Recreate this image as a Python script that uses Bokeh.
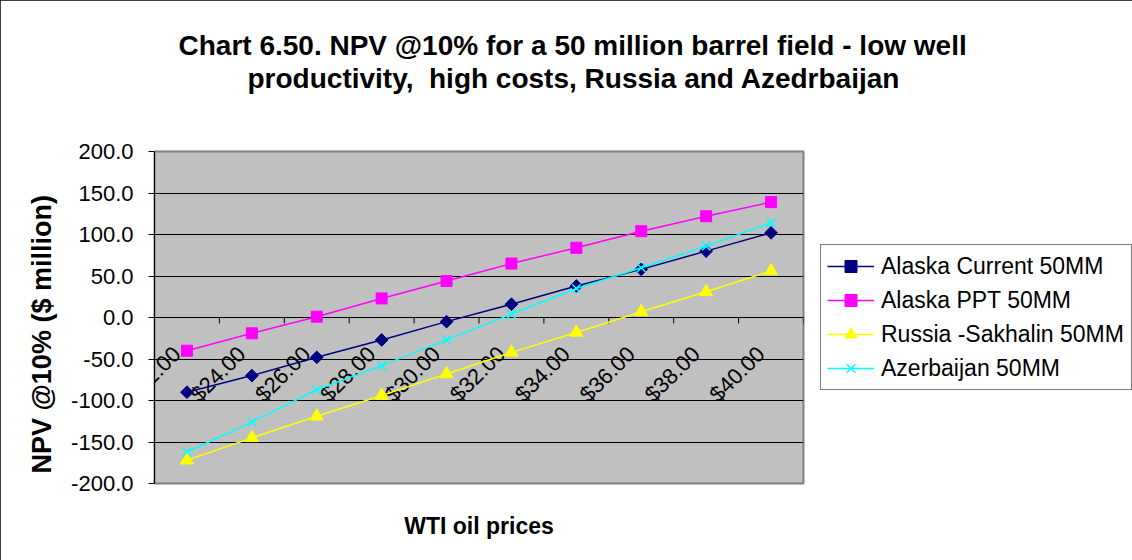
import math
from bokeh.plotting import figure
from bokeh.models import (Legend, LegendItem, Title, NumeralTickFormatter,
                          SingleIntervalTicker, ColumnDataSource, Range1d)
from bokeh.transform import dodge
from bokeh.core.properties import value
from bokeh.embed import file_html
from bokeh.resources import INLINE

prices = ["$22.00", "$24.00", "$26.00", "$28.00", "$30.00",
          "$32.00", "$34.00", "$36.00", "$38.00", "$40.00"]
alaska_current = [-90, -70, -48, -27, -5, 16, 38, 58, 80, 102]
alaska_ppt = [-40, -19, 1, 23, 44, 65, 84, 104, 122, 139]
russia_sakhalin = [-172, -145, -119, -94, -68, -42, -18, 7, 31, 56]
azerbaijan = [-162, -126, -87, -58, -27, 4, 35, 60, 86, 114]

series_names = ["Alaska Current 50MM", "Alaska PPT 50MM",
                "Russia -Sakhalin 50MM", "Azerbaijan 50MM"]
series_values = [alaska_current, alaska_ppt, russia_sakhalin, azerbaijan]
series_colors = ["#000080", "#FF00FF", "#FFFF00", "#00FFFF"]
series_markers = ["square", "square", "triangle", "x"]
series_angles = [math.pi / 4, 0, 0, 0]
series_sizes = [9, 11, 13, 12]

title_line1 = "Chart 6.50. NPV @10% for a 50 million barrel field - low well"
title_line2 = "productivity,\u00a0 high costs, Russia and Azedrbaijan"
x_title = "WTI oil prices"
y_title = "NPV @10% ($ million)"
FONT = "Liberation Sans"

p = figure(x_range=prices, y_range=Range1d(-200, 200),
           frame_width=649, frame_height=332,
           min_border_left=154, min_border_right=327,
           min_border_top=151, min_border_bottom=77,
           output_backend="svg", toolbar_location=None,
           background_fill_color="#C0C0C0", border_fill_color="white")

p.outline_line_color = "#808080"
p.outline_line_width = 2

# y axis
p.yaxis.ticker = SingleIntervalTicker(interval=50)
p.yaxis.formatter = NumeralTickFormatter(format="0.0")
p.yaxis.major_label_text_font = FONT
p.yaxis.major_label_text_font_size = "22px"
p.yaxis.major_label_text_color = "black"
p.yaxis.major_tick_out = 6
p.yaxis.major_tick_in = 0
p.yaxis.minor_tick_line_color = None
p.yaxis.major_label_standoff = 15
p.yaxis.axis_line_color = "black"

# x axis: crosses at zero (the zero gridline), labels drawn below it
p.xaxis.visible = False
p.xgrid.grid_line_color = None
p.ygrid.grid_line_color = "black"
p.ygrid.grid_line_width = 1

cat_src = ColumnDataSource(dict(cat=prices, y=[0] * len(prices)))
p.ray(x=dodge("cat", 0.5, range=p.x_range), y="y", source=cat_src,
      length=6, length_units="screen", angle=-math.pi / 2,
      line_color="black", line_width=1)
p.text(x="cat", y="y", text="cat", source=cat_src, angle=math.pi / 4,
       x_offset=-19, y_offset=24, text_align="right", text_baseline="top",
       text_font=value(FONT), text_font_size="22px", text_color="black")

items = []
for name, vals, col, mk, ang, sz in zip(series_names, series_values,
                                        series_colors, series_markers,
                                        series_angles, series_sizes):
    src = ColumnDataSource(dict(x=prices, y=vals))
    ln = p.line("x", "y", source=src, line_color=col, line_width=1.5)
    if mk == "x":
        sc = p.scatter("x", "y", source=src, marker=mk, size=sz,
                       line_color=col, line_width=1.5)
    else:
        sc = p.scatter("x", "y", source=src, marker=mk, size=sz, angle=ang,
                       fill_color=col, line_color=col)
    items.append(LegendItem(label=name, renderers=[ln, sc]))

legend = Legend(items=items, location="center_left",
                label_text_font=FONT, label_text_font_size="23px",
                label_text_color="black",
                label_height=30, glyph_height=30, glyph_width=47,
                label_width=244,
                label_standoff=7, spacing=4, padding=6, margin=17,
                border_line_color="black", border_line_width=1,
                background_fill_color="white", background_fill_alpha=1)
p.add_layout(legend, "right")


def spacer(size):
    # a blank title used only to reserve room in a side panel
    return Title(text="\u00a0", text_font=FONT, text_font_size="10px",
                 text_color="white", standoff=size)


# title block (first added sits nearest the frame)
p.add_layout(spacer(45), "above")
p.add_layout(Title(text=title_line2, align="left", offset=93, standoff=0,
                   text_font=FONT, text_font_size="28px",
                   text_font_style="bold", text_color="black"), "above")
p.add_layout(Title(text=title_line1, align="left", offset=24, standoff=0,
                   text_font=FONT, text_font_size="28px",
                   text_font_style="bold", text_color="black"), "above")

# x axis title
p.add_layout(spacer(14), "below")
p.add_layout(Title(text=x_title, align="center", standoff=0,
                   text_font=FONT, text_font_size="23px",
                   text_font_style="bold", text_color="black"), "below")

# y axis title
p.add_layout(Title(text=y_title, align="left", offset=10, standoff=24,
                   text_font=FONT, text_font_size="27px",
                   text_font_style="bold", text_color="black"), "left")

p.styles = {"outline": "1px solid black", "outline-offset": "-1px"}

open("out.html", "w").write(file_html(p, INLINE))
